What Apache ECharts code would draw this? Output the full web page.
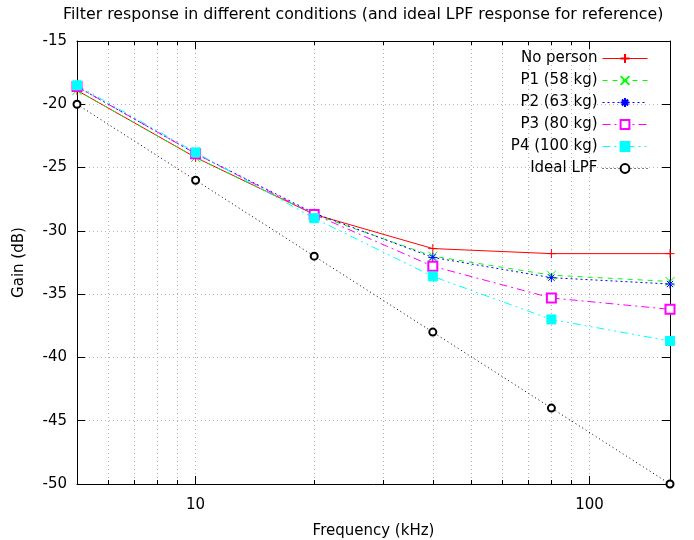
<!DOCTYPE html>
<html>
<head>
<meta charset="utf-8">
<script src="https://cdn.jsdelivr.net/npm/echarts@6/dist/echarts.min.js"></script>
<style>
html, body { margin: 0; padding: 0; background: #fff; }
#chart { width: 694px; height: 540px; }
</style>
</head>
<body>
<div id="chart"></div>
<script>
// frequencies in kHz
var freqs = [5, 10, 20, 40, 80, 160];

// gain in dB
var noPerson = [-18.9, -24.2, -28.7, -31.4, -31.8, -31.8];
var p1 = [-18.9, -24.2, -28.7, -32.0, -33.5, -34.0];
var p2 = [-18.6, -23.9, -28.6, -32.1, -33.7, -34.2];
var p3 = [-18.6, -23.9, -28.7, -32.8, -35.3, -36.2];
var p4 = [-18.5, -23.8, -29.0, -33.6, -37.0, -38.7];
var idealLpf = [-20, -26, -32, -38, -44, -50];

var seriesNames = ['No person', 'P1 (58 kg)', 'P2 (63 kg)', 'P3 (80 kg)', 'P4 (100 kg)', 'Ideal LPF'];

var xMajorTicks = [10, 100];
var xMinorTicks = [6, 7, 8, 9, 20, 30, 40, 50, 60, 70, 80, 90];

var FONT = 'DejaVu Sans';
var FS = 15;
var lg = function (v) { return Math.log10(v); };
var pts = function (vals) {
  return freqs.map(function (f, i) { return [lg(f), vals[i]]; });
};

// gnuplot-like point shapes
var PLUS = 'path://M5 0V10M0 5H10';
var CROSS = 'path://M0 0L10 10M10 0L0 10';
var STAR = 'path://M5 0V10M0 5H10M1.5 1.5L8.5 8.5M8.5 1.5L1.5 8.5';

var myChart = echarts.init(document.getElementById('chart'));

function line(name, vals, color, dash, symbol, size) {
  return {
    name: name,
    type: 'line',
    data: pts(vals),
    symbol: symbol,
    symbolSize: size,
    showAllSymbol: true,
    lineStyle: { color: color, width: 1, type: dash },
    itemStyle: { color: color, borderColor: color, borderWidth: 1 },
    emphasis: { disabled: true },
    clip: false
  };
}

function xAx(pos, ticks, len, withLabel, withGrid) {
  var ax = {
    type: 'value',
    position: pos,
    min: lg(5),
    max: lg(160),
    axisLine: { show: false, onZero: false },
    axisTick: { show: true, inside: true, length: len, customValues: ticks.map(lg),
      lineStyle: { color: '#000', width: 1 } },
    axisLabel: { show: false },
    splitLine: { show: false }
  };
  if (withLabel) {
    ax.axisLine = { show: true, onZero: false, lineStyle: { color: '#000', width: 1 } };
    ax.axisLabel = {
      show: pos === 'bottom',
      customValues: xMajorTicks.map(lg),
      formatter: function (v) { return String(Math.round(Math.pow(10, v))); },
      margin: 14, fontSize: FS, color: '#000', fontFamily: FONT
    };
  }
  if (withGrid) {
    ax.splitLine = { show: true, lineStyle: { color: '#b4b4b4', width: 1, type: [1, 3] } };
  }
  return ax;
}

var allX = xMinorTicks.concat(xMajorTicks);
var xBottom = xAx('bottom', allX, 4, true, true);
xBottom.name = 'Frequency (kHz)';
xBottom.nameLocation = 'middle';
xBottom.nameGap = 40;
xBottom.nameTextStyle = { fontSize: FS, color: '#000', fontFamily: FONT };

myChart.setOption({
  animation: false,
  backgroundColor: '#fff',
  title: {
    text: 'Filter response in different conditions (and ideal LPF response for reference)',
    left: 63,
    top: 7,
    padding: 0,
    textStyle: { fontSize: 15.8, fontWeight: 'normal', color: '#000', fontFamily: FONT }
  },
  grid: { left: 77, right: 24, top: 41, bottom: 56, outerBoundsMode: 'none', containLabel: false },
  legend: {
    orient: 'vertical',
    align: 'right',
    right: 46,
    top: 51,
    padding: 0,
    itemWidth: 45,
    itemHeight: 11,
    itemGap: 7,
    data: seriesNames,
    lineStyle: { width: 1 },
    textStyle: { fontSize: FS, color: '#000', fontFamily: FONT }
  },
  xAxis: [
    xBottom,
    xAx('bottom', xMajorTicks, 8, false, false),
    xAx('top', allX, 4, true, false),
    xAx('top', xMajorTicks, 8, false, false)
  ],
  yAxis: [
    {
      type: 'value', position: 'left', min: -50, max: -15, interval: 5,
      name: 'Gain (dB)', nameLocation: 'middle', nameGap: 50,
      nameTextStyle: { fontSize: FS, color: '#000', fontFamily: FONT },
      axisLine: { show: true, onZero: false, lineStyle: { color: '#000', width: 1 } },
      axisTick: { show: true, inside: true, length: 8, lineStyle: { color: '#000' } },
      axisLabel: { margin: 10, fontSize: FS, color: '#000', fontFamily: FONT },
      splitLine: { show: true, lineStyle: { color: '#b4b4b4', width: 1, type: [1, 3] } }
    },
    {
      type: 'value', position: 'right', min: -50, max: -15, interval: 5,
      axisLine: { show: true, onZero: false, lineStyle: { color: '#000', width: 1 } },
      axisTick: { show: true, inside: true, length: 8, lineStyle: { color: '#000' } },
      axisLabel: { show: false },
      splitLine: { show: false }
    }
  ],
  series: [
    line(seriesNames[0], noPerson, '#ff0000', 'solid', PLUS, 9),
    line(seriesNames[1], p1, '#00ff00', [5, 5], CROSS, 9),
    line(seriesNames[2], p2, '#0000ff', [2, 3], STAR, 9),
    line(seriesNames[3], p3, '#ff00ff', [8, 4, 2, 4], 'emptyRect', 9),
    line(seriesNames[4], p4, '#00ffff', [8, 4, 2, 4, 2, 4], 'rect', 9),
    line(seriesNames[5], idealLpf, '#000000', [1, 3], 'emptyCircle', 7)
  ]
});
</script>
</body>
</html>
